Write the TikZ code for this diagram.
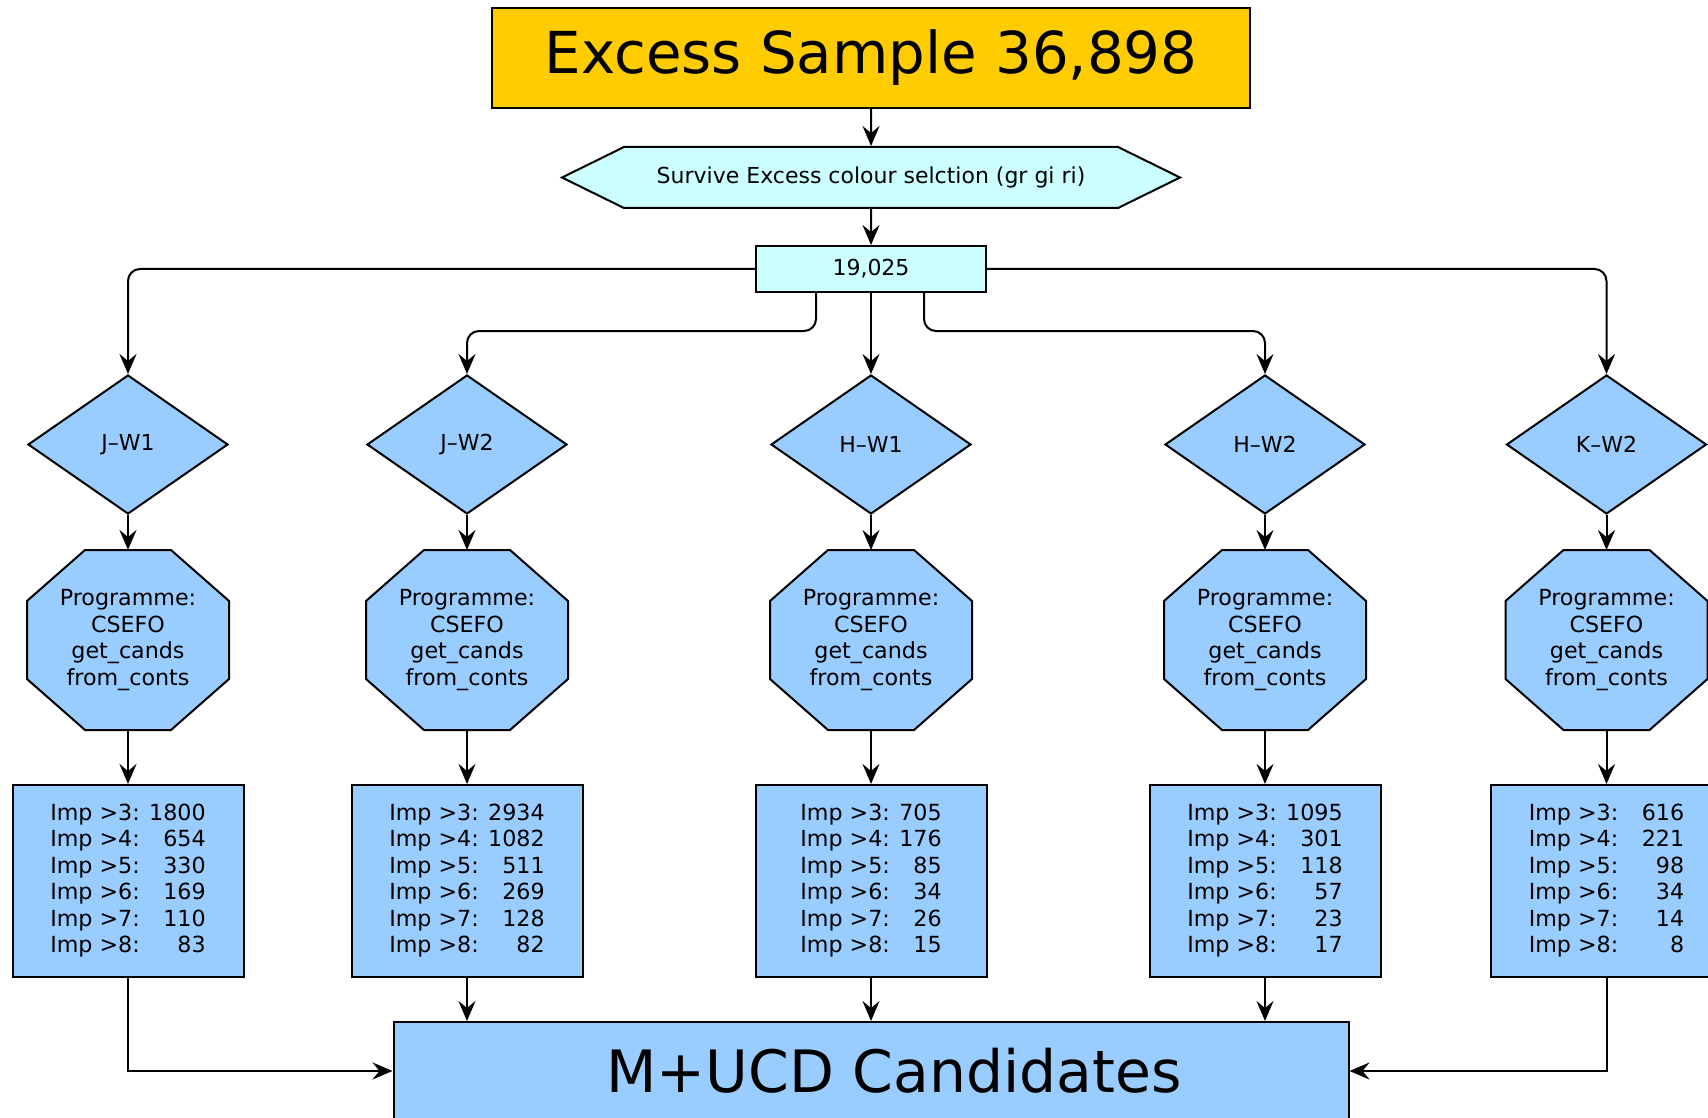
\documentclass[tikz,border=0pt]{standalone}
\usepackage{fontspec}
\setmainfont{DejaVu Sans}
\usepackage{tikz}
\usetikzlibrary{shapes.geometric, shapes.symbols, arrows.meta, positioning, backgrounds}
\definecolor{titlegold}{HTML}{FFCC00}
\definecolor{paleaqua}{HTML}{CCFFFF}
\definecolor{skyblue}{HTML}{99CCFF}
\tikzstyle{header} = [rectangle, minimum width=379pt, minimum height=50pt, inner sep=0pt, text centered, draw=black, line width=1pt, fill=titlegold, font=\fontsize{28.9}{34}\selectfont]
\tikzstyle{colourcut} = [signal, signal to=east and west, signal pointer angle=52.4, minimum width=309pt, minimum height=30.5pt, inner sep=0pt, draw=black, line width=1pt, fill=paleaqua, font=\fontsize{11}{13.25}\selectfont]
\tikzstyle{count} = [rectangle, minimum width=115pt, minimum height=23pt, inner sep=0pt, draw=black, line width=1pt, fill=paleaqua, font=\fontsize{11}{13.25}\selectfont]
\tikzstyle{band} = [diamond, minimum width=100pt, minimum height=69.5pt, inner sep=0pt, draw=black, line width=1pt, fill=skyblue, font=\fontsize{11}{13.25}\selectfont]
\tikzstyle{program} = [rectangle, minimum width=100pt, minimum height=89pt, inner sep=0pt, align=center, line width=1pt, font=\fontsize{11.1}{13.35}\selectfont]
\tikzstyle{octoline} = [draw=black, line width=1pt, fill=skyblue, line join=miter]
\tikzstyle{result} = [rectangle, minimum width=115.5pt, minimum height=96pt, inner sep=0pt, draw=black, line width=1pt, fill=skyblue, font=\fontsize{11.1}{13.25}\selectfont]
\tikzstyle{final} = [rectangle, minimum width=477.5pt, minimum height=49pt, inner sep=0pt, draw=black, line width=1pt, fill=skyblue, font=\fontsize{29.2}{34}\selectfont]
\tikzstyle{arrow} = [line width=1pt, -{Stealth[length=10pt, width=8.5pt, inset=3.5pt]}]

\begin{document}
\begin{tikzpicture}[x=0.5pt, y=-0.5pt]
\useasboundingbox (0,0) rectangle (1708,1118);

\node (title) [header] at (871,58) {Excess Sample 36,898};
\node (cut) [colourcut, below=18.5pt of title] {Survive Excess colour selction (gr gi ri)};
\node (total) [count, below=18pt of cut] {19,025};

% bands
\node (hw1) [band, below=40.5pt of total] {H–W1};
\node (jw1) [band, below=40.5pt of total, xshift=-371.5pt] {J–W1};
\node (jw2) [band, below=40.5pt of total, xshift=-202pt] {J–W2};
\node (hw2) [band, below=40.5pt of total, xshift=197pt] {H–W2};
\node (kw2) [band, below=40.5pt of total, xshift=367.75pt] {K–W2};

% programmes
\node (p1) [program, below=17.5pt of jw1] {Programme:\\CSEFO\\get\_cands\\from\_conts};
\node (p2) [program, below=17.5pt of jw2] {Programme:\\CSEFO\\get\_cands\\from\_conts};
\node (p3) [program, below=17.5pt of hw1] {Programme:\\CSEFO\\get\_cands\\from\_conts};
\node (p4) [program, below=17.5pt of hw2] {Programme:\\CSEFO\\get\_cands\\from\_conts};
\node (p5) [program, below=17.5pt of kw2] {Programme:\\CSEFO\\get\_cands\\from\_conts};

% octagon outlines behind the programme text
\begin{scope}[on background layer]
\foreach \p in {p1,p2,p3,p4,p5}
  \draw [octoline] ([xshift=29pt]\p.north west) -- ([xshift=-29pt]\p.north east)
    -- ([yshift=-25.5pt]\p.north east) -- ([yshift=25.5pt]\p.south east)
    -- ([xshift=-29pt]\p.south east) -- ([xshift=29pt]\p.south west)
    -- ([yshift=25.5pt]\p.south west) -- ([yshift=-25.5pt]\p.north west) -- cycle;
\end{scope}

% counts per band
\node (r1) [result, below=27pt of p1] {\raisebox{-1.5pt}{\begin{tabular}{@{}l@{ }r@{}}
Imp >3: & 1800\\ Imp >4: & 654\\ Imp >5: & 330\\ Imp >6: & 169\\ Imp >7: & 110\\ Imp >8: & 83
\end{tabular}}};
\node (r2) [result, below=27pt of p2] {\raisebox{-1.5pt}{\begin{tabular}{@{}l@{ }r@{}}
Imp >3: & 2934\\ Imp >4: & 1082\\ Imp >5: & 511\\ Imp >6: & 269\\ Imp >7: & 128\\ Imp >8: & 82
\end{tabular}}};
\node (r3) [result, below=27pt of p3] {\raisebox{-1.5pt}{\begin{tabular}{@{}l@{ }r@{}}
Imp >3: & 705\\ Imp >4: & 176\\ Imp >5: & 85\\ Imp >6: & 34\\ Imp >7: & 26\\ Imp >8: & 15
\end{tabular}}};
\node (r4) [result, below=27pt of p4] {\raisebox{-1.5pt}{\begin{tabular}{@{}l@{ }r@{}}
Imp >3: & 1095\\ Imp >4: & 301\\ Imp >5: & 118\\ Imp >6: & 57\\ Imp >7: & 23\\ Imp >8: & 17
\end{tabular}}};
\node (r5) [result, below=27pt of p5] {\raisebox{-1.5pt}{\begin{tabular}{@{}l@{ }r@{}}
Imp >3: & \phantom{0}616\\ Imp >4: & 221\\ Imp >5: & 98\\ Imp >6: & 34\\ Imp >7: & 14\\ Imp >8: & 8
\end{tabular}}};

\node (cands) [final, below=21.5pt of r3] {\hspace*{23pt}M+UCD Candidates};

% connectors
\draw [arrow] (title) -- (cut);
\draw [arrow] (cut) -- (total);
\draw [arrow, rounded corners=6pt] (total.west) -| (jw1.north);
\draw [arrow, rounded corners=6pt] ([xshift=-27.5pt]total.south) -- ++(0,-19pt) -| (jw2.north);
\draw [arrow] (total) -- (hw1);
\draw [arrow, rounded corners=6pt] ([xshift=26.5pt]total.south) -- ++(0,-19pt) -| (hw2.north);
\draw [arrow, rounded corners=6pt] (total.east) -| (kw2.north);

\draw [arrow] (jw1) -- (p1);
\draw [arrow] (jw2) -- (p2);
\draw [arrow] (hw1) -- (p3);
\draw [arrow] (hw2) -- (p4);
\draw [arrow] (kw2) -- (p5);

\draw [arrow] (p1) -- (r1);
\draw [arrow] (p2) -- (r2);
\draw [arrow] (p3) -- (r3);
\draw [arrow] (p4) -- (r4);
\draw [arrow] (p5) -- (r5);

\draw [arrow] (r1.south) |- (cands.west);
\draw [arrow] (r2.south) -- (r2.south |- cands.north);
\draw [arrow] (r3) -- (cands);
\draw [arrow] (r4.south) -- (r4.south |- cands.north);
\draw [arrow] (r5.south) |- (cands.east);

\end{tikzpicture}
\end{document}
